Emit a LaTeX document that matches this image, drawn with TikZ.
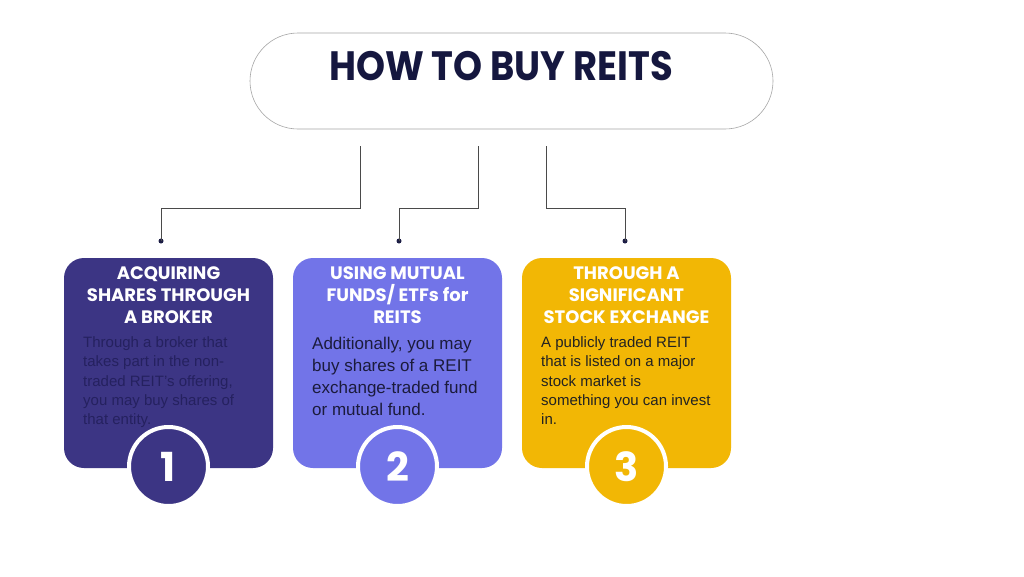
\documentclass[tikz,border=0pt]{standalone}
\usepackage{fontspec}
\setmainfont{Liberation Sans}
\newfontfamily\popfont{Poppins}
\definecolor{boxA}{HTML}{3C3584}
\definecolor{boxB}{HTML}{7274E8}
\definecolor{boxC}{HTML}{F2B705}
\definecolor{titlecol}{HTML}{15173F}
\definecolor{linecol}{HTML}{4A4A4A}
\definecolor{dotcol}{HTML}{1C1D45}
\definecolor{txtA}{HTML}{25215F}
\definecolor{txtB}{HTML}{1B1B3B}
\definecolor{txtC}{HTML}{222222}
\tikzset{
  card/.style={rounded corners=20pt, minimum width=209pt, minimum height=210pt, inner sep=0pt},
  numcirc/.style={circle, draw=white, line width=4pt, minimum size=79pt, inner sep=0pt, text=white, font=\popfont\bfseries\fontsize{40}{40}\selectfont},
  head/.style={align=center, anchor=north, inner sep=0pt, text=white, font=\popfont\bfseries\fontsize{18}{22}\selectfont},
  bodyA/.style={align=left, anchor=north west, inner sep=0pt, font=\fontsize{15}{19.3}\selectfont},
  bodyB/.style={align=left, anchor=north west, inner sep=0pt, font=\fontsize{17}{22}\selectfont},
  conn/.style={draw=linecol, line width=0.8pt},
  dotnode/.style={circle, fill=dotcol, minimum size=5pt, inner sep=0pt}
}
\begin{document}
\begin{tikzpicture}[x=1pt,y=-1pt]
\useasboundingbox[fill=white] (0,0) rectangle (1024,576);
% title pill
\node[draw=gray!70, line width=0.6pt, rounded corners=48pt, minimum width=523pt, minimum height=96pt, inner sep=0pt] (pill) at (511.5,81) {};
\node[text=titlecol, inner sep=0pt, font=\popfont\bfseries\fontsize{41}{41}\selectfont] (title) at (501,66) {\scalebox{0.9}[1]{HOW TO BUY REITS}};
% connectors
\coordinate (t1) at (360,146);
\coordinate (t2) at (478,146);
\coordinate (t3) at (546,146);
\node[dotnode] (d1) at (161,241) {};
\node[dotnode] (d2) at (399,241) {};
\node[dotnode] (d3) at (625,241) {};
\draw[conn] (t1) -- ++(0,62) -| (d1.center);
\draw[conn] (t2) -- ++(0,62) -| (d2.center);
\draw[conn] (t3) -- ++(0,62) -| (d3.center);
% cards
\node[card, fill=boxA] (b1) at (168.5,363) {};
\node[card, fill=boxB] (b2) at (397.5,363) {};
\node[card, fill=boxC] (b3) at (626.5,363) {};
% headers
\node[head] (h1) at (168.5,266.5) {ACQUIRING\\SHARES THROUGH\\A BROKER};
\node[head] (h2) at (397.5,266.5) {USING MUTUAL\\FUNDS/ ETFs for\\REITS};
\node[head] (h3) at (626.5,266.5) {THROUGH A\\SIGNIFICANT\\STOCK EXCHANGE};
% bodies
\node[bodyA, text=txtA] (p1) at (83,336.5) {Through a broker that\\takes part in the non-\\traded REIT's offering,\\you may buy shares of\\that entity.};
\node[bodyB, text=txtB] (p2) at (312,336.5) {Additionally, you may\\buy shares of a REIT\\exchange-traded fund\\or mutual fund.};
\node[bodyA, text=txtC] (p3) at (541,336.5) {A publicly traded REIT\\that is listed on a major\\stock market is\\something you can invest\\in.};
% number circles
\node[numcirc, fill=boxA] (n1) at (168.5,466.5) {1};
\node[numcirc, fill=boxB] (n2) at (397.5,466.5) {2};
\node[numcirc, fill=boxC] (n3) at (626.5,466.5) {3};
\end{tikzpicture}
\end{document}
